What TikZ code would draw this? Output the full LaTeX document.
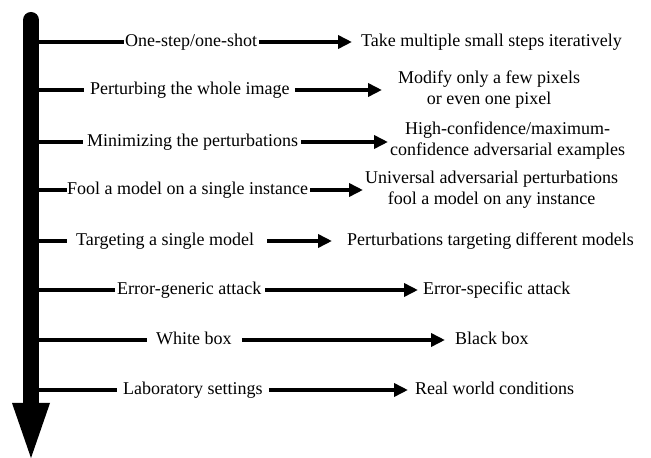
\documentclass[tikz,border=0pt]{standalone}
\usepackage{fontspec}
\setmainfont{Liberation Serif}
\usetikzlibrary{arrows.meta}
\begin{document}
\begin{tikzpicture}[x=1pt,y=1pt,
  txt/.style={inner sep=0pt, anchor=west, align=center, font=\fontsize{18}{21}\selectfont},
  one/.style={txt, text height=12.5pt, text depth=4pt},
  conn/.style={line width=3.6pt},
  arr/.style={line width=3.6pt, -{Triangle[length=14pt,width=13pt]}}]
\useasboundingbox (0,0) rectangle (651,458);
% main vertical arrow
\coordinate (top) at (31,438);
\coordinate (bot) at (31,50);
\draw[line width=16pt, line cap=round] (top) -- (bot);
\fill (12,55) -- (50,55) -- (31,0) -- cycle;
% rows
\foreach \i/\y in {1/416,2/368,3/316,4/268,5/217,6/168,7/118,8/68}
  \coordinate (b\i) at (31,\y);
\node[one] (l1) at (125,416) {One-step/one-shot};
\node[one] (r1) at (361,416) {Take multiple small steps iteratively};
\node[one] (l2) at (90,368) {Perturbing the whole image};
\node[txt] (r2) at (398,368) {Modify only a few pixels\\or even one pixel};
\node[one] (l3) at (87,316) {Minimizing the perturbations};
\node[txt] (r3) at (390,317) {High-confidence/maximum-\\confidence adversarial examples};
\node[one] (l4) at (67,268) {Fool a model on a single instance};
\node[txt] (r4) at (365,268) {Universal adversarial perturbations\\fool a model on any instance};
\node[one] (l5) at (76,217) {Targeting a single model};
\node[one] (r5) at (347,217) {Perturbations targeting different models};
\node[one] (l6) at (117,168) {Error-generic attack};
\node[one] (r6) at (423,168) {Error-specific attack};
\node[one] (l7) at (156,118) {White box};
\node[one] (r7) at (455,118) {Black box};
\node[one] (l8) at (123,68) {Laboratory settings};
\node[one] (r8) at (415,68) {Real world conditions};
% connectors
\draw[conn, shorten >=1pt] (b1) -- (b1 -| l1.west);
\draw[arr, shorten <=2pt, shorten >=9pt] (l1.east |- b1) -- (r1.west |- b1);
\draw[conn, shorten >=6pt] (b2) -- (b2 -| l2.west);
\draw[arr, shorten <=5pt, shorten >=16pt] (l2.east |- b2) -- (r2.west |- b2);
\draw[conn, shorten >=4pt] (b3) -- (b3 -| l3.west);
\draw[arr, shorten <=3pt, shorten >=2pt] (l3.east |- b3) -- (r3.west |- b3);
\draw[conn, shorten >=0pt] (b4) -- (b4 -| l4.west);
\draw[arr, shorten <=2pt, shorten >=2pt] (l4.east |- b4) -- (r4.west |- b4);
\draw[conn, shorten >=9pt] (b5) -- (b5 -| l5.west);
\draw[arr, shorten <=13pt, shorten >=15pt] (l5.east |- b5) -- (r5.west |- b5);
\draw[conn, shorten >=2pt] (b6) -- (b6 -| l6.west);
\draw[arr, shorten <=4pt, shorten >=5pt] (l6.east |- b6) -- (r6.west |- b6);
\draw[conn, shorten >=9pt] (b7) -- (b7 -| l7.west);
\draw[arr, shorten <=10pt, shorten >=10pt] (l7.east |- b7) -- (r7.west |- b7);
\draw[conn, shorten >=6pt] (b8) -- (b8 -| l8.west);
\draw[arr, shorten <=6pt, shorten >=7pt] (l8.east |- b8) -- (r8.west |- b8);
\end{tikzpicture}
\end{document}
